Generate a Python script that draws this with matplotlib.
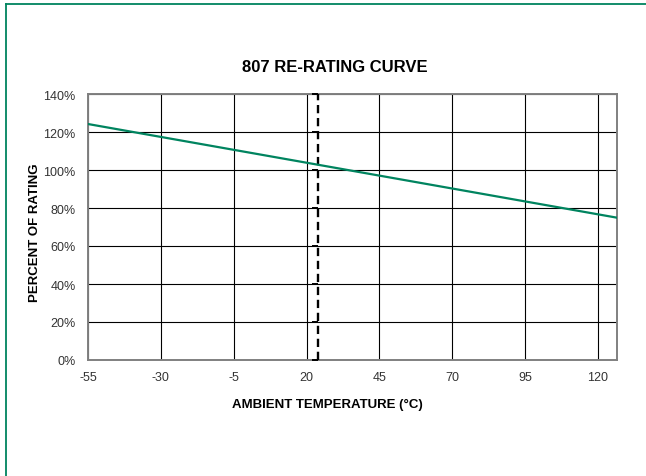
import matplotlib
import matplotlib.pyplot as plt
from matplotlib.lines import Line2D
from matplotlib.ticker import PercentFormatter

matplotlib.use("Agg")

# re-rating curve (ambient temperature in deg C vs. percent of rating)
temp_c = [-55, 126.5]
rating_pct = [124.2, 74.9]

# reference temperature marker
ref_temp = 24
ref_levels = [0, 20, 40, 60, 80, 100, 120, 140]

x_ticks = [-55, -30, -5, 20, 45, 70, 95, 120]
y_ticks = [0, 20, 40, 60, 80, 100, 120, 140]

W, H = 646, 477
green = "#00845f"


def main() -> None:
    plt.rcParams["font.family"] = ["Liberation Sans", "DejaVu Sans"]
    plt.rcParams["axes.unicode_minus"] = False
    fig = plt.figure(figsize=(W / 100, H / 100), dpi=100)
    ax = fig.add_axes([88 / W, 1 - 361 / H, (617 - 88) / W, (361 - 95) / H])

    ax.set_xlim(-55, 126.5)
    ax.set_ylim(0, 140)
    ax.set_xticks(x_ticks)
    ax.set_yticks(y_ticks)
    ax.yaxis.set_major_formatter(PercentFormatter(decimals=0))
    ax.tick_params(length=0, labelsize=9, colors="#333333")
    ax.tick_params(axis="x", pad=8)
    ax.tick_params(axis="y", pad=9)
    ax.grid(True, color="black", linewidth=0.8)
    ax.set_axisbelow(True)
    for s in ax.spines.values():
        s.set_color("#808080")
        s.set_linewidth(1.4)

    # dashed reference line with small left ticks
    ax.plot([ref_temp] * len(ref_levels), ref_levels, color="black",
            linestyle=(0, (3.5, 2)), linewidth=1.7, marker=0,
            markersize=4, markeredgewidth=1.4, clip_on=False, zorder=3)

    ax.plot(temp_c, rating_pct, color=green, linewidth=1.6, zorder=4)

    fig.text(335 / W, 1 - 68 / H, "807 RE-RATING CURVE", ha="center",
             va="center", fontsize=12, fontweight="bold")
    fig.text(327 / W, 1 - 405 / H, "AMBIENT TEMPERATURE (\u00b0C)", ha="center",
             va="center", fontsize=9.5, fontweight="bold")
    fig.text(35 / W, 1 - 233 / H, "PERCENT OF RATING", ha="center",
             va="center", rotation=90, fontsize=9.5, fontweight="bold")

    # outer border (left and top only are visible)
    fig.add_artist(Line2D([5.5 / W, 5.5 / W], [0, 1 - 4.5 / H], color=green,
                          linewidth=1.3, transform=fig.transFigure))
    fig.add_artist(Line2D([5.5 / W, 1], [1 - 4.5 / H, 1 - 4.5 / H], color=green,
                          linewidth=1.3, transform=fig.transFigure))

    fig.savefig("out.png", dpi=100)
    plt.close(fig)


if __name__ == "__main__":
    main()
